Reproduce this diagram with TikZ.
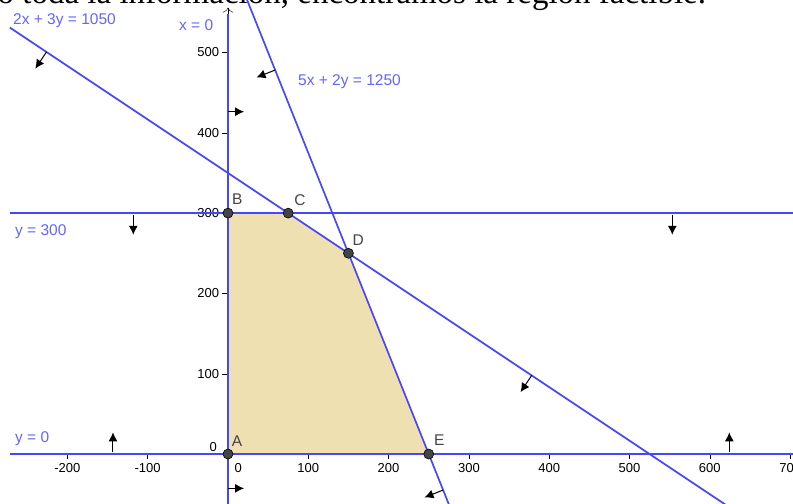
\documentclass[tikz,border=0pt]{standalone}
\usepackage{fontspec}
\setmainfont{Liberation Serif}
\setsansfont{Liberation Sans}
\usetikzlibrary{arrows.meta}

\definecolor{lineblue}{RGB}{70,70,255}
\definecolor{labelblue}{RGB}{100,100,255}
\definecolor{regionfill}{RGB}{238,224,176}
\definecolor{pointgrey}{RGB}{68,68,68}

\begin{document}
\begin{tikzpicture}[
    x=0.803pt, y=0.803pt,
    every node/.style={font=\sffamily, inner sep=0pt},
    constraint/.style={draw=lineblue, line width=1.7pt},
    eqlabel/.style={anchor=base west, text=labelblue, font=\sffamily\fontsize{15.5}{16}\selectfont},
    ticklabel/.style={font=\sffamily\fontsize{13}{13}\selectfont},
    halfplane/.style={-{Latex[length=9pt,width=9pt]}, line width=1pt},
    vertex/.style={circle, fill=pointgrey, draw=black, line width=0.6pt, minimum size=10pt},
    vertexlabel/.style={text=pointgrey, font=\sffamily\fontsize{15.5}{16}\selectfont}
]

\path[use as bounding box] (-283.9,-61) rectangle (703.6,565.4);
\clip (-283.9,-61) rectangle (703.6,565.4);

%==================== Corner points of the region ====================
\coordinate (pA) at (0,0);
\coordinate (pB) at (0,300);
\coordinate (pC) at (75,300);
\coordinate (pD) at (150,250);
\coordinate (pE) at (250,0);

%==================== Feasible region ====================
\fill[regionfill] (pA) -- (pB) -- (pC) -- (pD) -- (pE) -- cycle;

%==================== Axes and ticks ====================
\draw (-271.5,0) -- (720,0);
\draw[-{To[length=5pt]}] (0,-70) -- (0,556);
\foreach \t in {-200,-100,100,200,300,400,500,600,700}
  \draw (\t,0) -- ++(0,-6) node[below=4.5pt, ticklabel] (xt\t) {\t};
\foreach \t in {100,200,300,400,500}
  \draw (-1,\t) -- ++(-6,0) node[left=3pt, ticklabel] (yt\t) {\t};
\node[ticklabel] (xt0) at (12.8,-18) {0};
\node[ticklabel] (yt0) at (-18.3,9.1) {0};

%==================== Constraint lines ====================
\coordinate (l1a) at (-271.5,531);  \coordinate (l1b) at (630,-70);   % 2x + 3y = 1050
\coordinate (l2a) at (18,580);      \coordinate (l2b) at (278,-70);   % 5x + 2y = 1250
\coordinate (l3a) at (-271.5,300);  \coordinate (l3b) at (720,300);   % y = 300
\coordinate (l4a) at (-271.5,0);    \coordinate (l4b) at (720,0);     % y = 0
\coordinate (l5a) at (0,-70);       \coordinate (l5b) at (0,548);     % x = 0
\draw[constraint] (l1a) -- (l1b);
\draw[constraint] (l2a) -- (l2b);
\draw[constraint] (l3a) -- (l3b);
\draw[constraint] (l4a) -- (l4b);
\draw[constraint] (l5a) -- (l5b);

%==================== Half-plane arrows ====================
\draw[halfplane] (-226,500.7) -- ++(236.3:25);
\draw[halfplane] (378.2,97.9) -- ++(236.3:25);
\draw[halfplane] (58.7,478.2) -- ++(201.8:25);
\draw[halfplane] (267.9,-44.8) -- ++(201.8:25);
\draw[halfplane] (0,426.3) -- ++(0:20);
\draw[halfplane] (0,-42.7) -- ++(0:20);
\draw[halfplane] (-117.9,298) -- ++(270:25);
\draw[halfplane] (553.3,298) -- ++(270:25);
\draw[halfplane] (-143.2,2) -- ++(90:25);
\draw[halfplane] (624.3,2) -- ++(90:25);

%==================== Vertices ====================
\node[vertex] (A) at (pA) {};
\node[vertex] (B) at (pB) {};
\node[vertex] (C) at (pC) {};
\node[vertex] (D) at (pD) {};
\node[vertex] (E) at (pE) {};

%==================== Labels ====================
% vertices
\node[vertexlabel] (labA) at (11.2,16.4)  {A};
\node[vertexlabel] (labB) at (11.6,317.1) {B};
\node[vertexlabel] (labC) at (89.7,316.3) {C};
\node[vertexlabel] (labD) at (162.3,266.5) {D};
\node[vertexlabel] (labE) at (263.2,17.4) {E};

% equations
\node[eqlabel] (eq1) at (-267.7,535.5) {2x + 3y = 1050};
\node[eqlabel] (eq5) at (-61,528)      {x = 0};
\node[eqlabel] (eq2) at (87.2,459.5)   {5x + 2y = 1250};
\node[eqlabel] (eq3) at (-265.3,272.7) {y = 300};
\node[eqlabel] (eq4) at (-265.3,14.1)  {y = 0};

% text above the plot
\node[anchor=base west, font=\rmfamily\fontsize{33}{33}\selectfont] (heading)
  at (-307.6,561) {do toda la información, encontramos la región factible.};

\end{tikzpicture}
\end{document}
